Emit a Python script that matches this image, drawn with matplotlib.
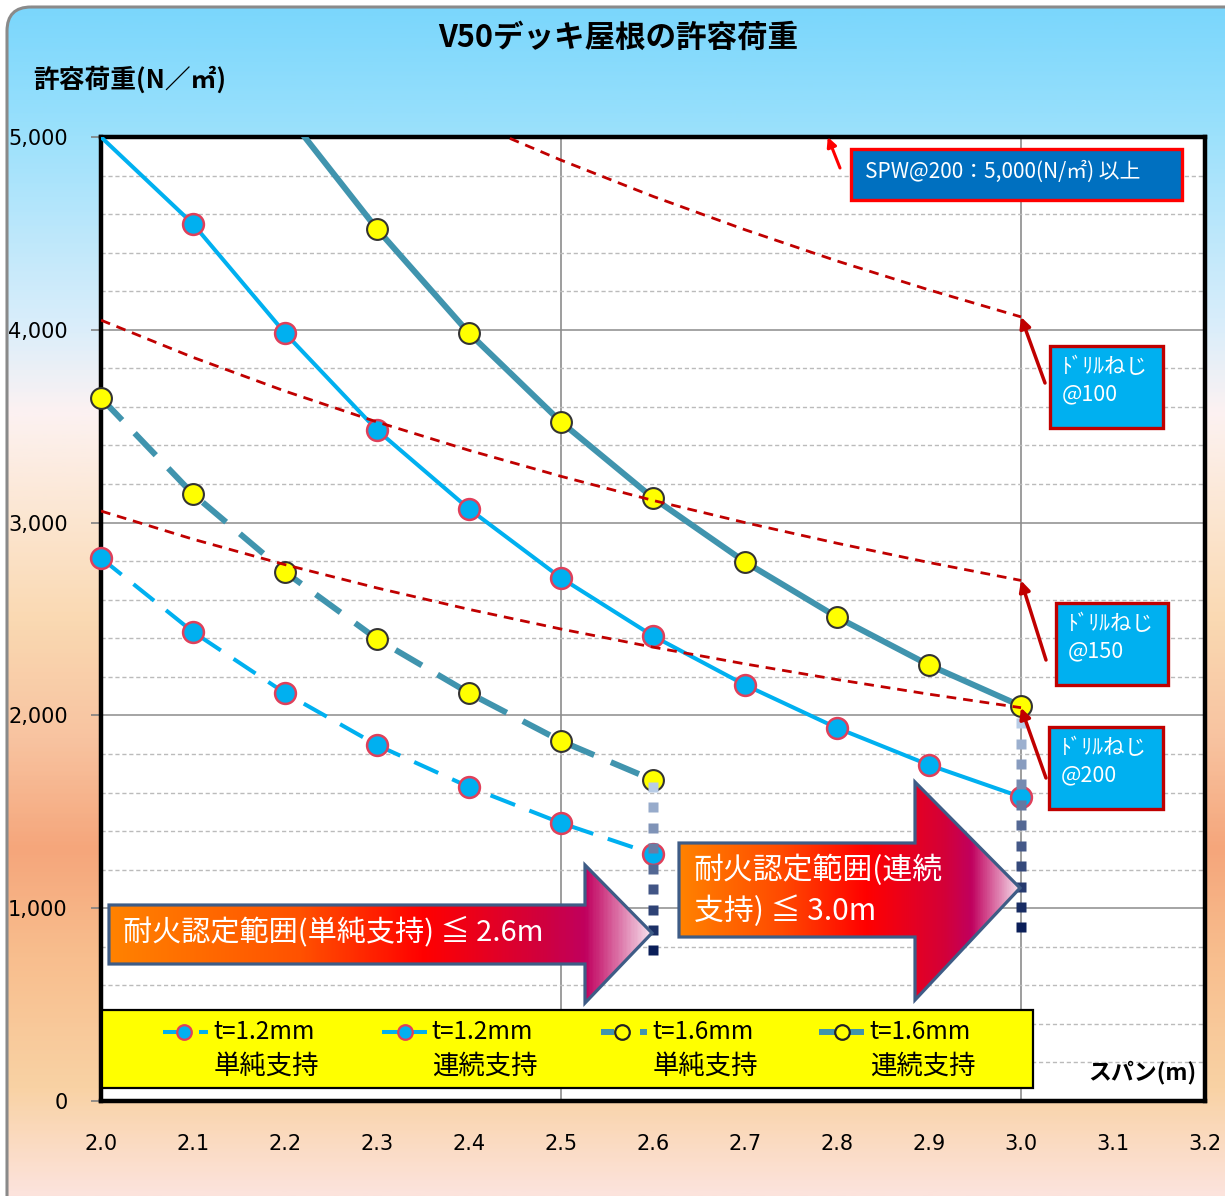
import numpy as np
import matplotlib
matplotlib.use('Agg')
import matplotlib.pyplot as plt
from matplotlib.patches import Polygon, Rectangle, FancyBboxPatch
from matplotlib.colors import LinearSegmentedColormap, to_rgb

plt.rcParams['font.family'] = ['Noto Sans CJK JP', 'DejaVu Sans']
plt.rcParams['lines.scale_dashes'] = False

# ---------------- data ----------------
spans_full = [2.0, 2.1, 2.2, 2.3, 2.4, 2.5, 2.6, 2.7, 2.8, 2.9, 3.0]
spans_simple = [2.0, 2.1, 2.2, 2.3, 2.4, 2.5, 2.6]

t12_simple = [2816, 2433, 2116, 1846, 1629, 1442, 1281]
t12_cont = [5000, 4549, 3983, 3480, 3071, 2713, 2412, 2158, 1935, 1743, 1577]
t16_simple = [3646, 3148, 2744, 2396, 2116, 1867, 1665]
t16_cont = [6630, 5830, 5130, 4523, 3983, 3522, 3128, 2796, 2510, 2261, 2049]

drill100 = [6100, 5810, 5545, 5304, 5083, 4880, 4692, 4519, 4357, 4207, 4067]
drill150 = [4050, 3857, 3682, 3522, 3375, 3240, 3115, 3000, 2893, 2793, 2700]
drill200 = [3060, 2914, 2782, 2661, 2550, 2448, 2354, 2267, 2186, 2110, 2040]

x_ticks = [2.0, 2.1, 2.2, 2.3, 2.4, 2.5, 2.6, 2.7, 2.8, 2.9, 3.0, 3.1, 3.2]
x_tick_labels = ['2.0', '2.1', '2.2', '2.3', '2.4', '2.5', '2.6', '2.7', '2.8', '2.9', '3.0', '3.1', '3.2']
y_ticks = [0, 1000, 2000, 3000, 4000, 5000]
y_tick_labels = ['0', '1,000', '2,000', '3,000', '4,000', '5,000']

legend_top = ['t=1.2mm', 't=1.2mm', 't=1.6mm', 't=1.6mm']
legend_bottom = ['単純支持', '連続支持', '単純支持', '連続支持']

title = 'V50デッキ屋根の許容荷重'
ylabel = '許容荷重(N／㎡)'
xlabel = 'スパン(m)'
spw_label = 'SPW@200：5,000(N/㎡) 以上'
drill_labels = ['@100', '@150', '@200']
arrow1_text = '耐火認定範囲(単純支持) ≦ 2.6m'
arrow2_text = ['耐火認定範囲(連続', '支持) ≦ 3.0m']

# guide (fire-rating limit) dotted lines: (span, top value, bottom value)
guide_26 = (2.6, 1629, 781)
guide_30 = (3.0, 1960, 892)

# ---------------- figure ----------------
W, H = 1225, 1196
fig = plt.figure(figsize=(W / 100, H / 100), dpi=100)

# background with gradient, rounded frame
bg = fig.add_axes([0, 0, 1, 1], zorder=0)
bg.axis('off')
stops = [(0.0, '#79D6FC'), (120 / H, '#98E0FC'), (330 / H, '#DCEEFA'),
         (410 / H, '#FCF2F2'), (500 / H, '#FCE8D6'), (620 / H, '#FAD9B2'),
         (740 / H, '#F8C3A0'), (850 / H, '#F5A67B'), (960 / H, '#F8BE8E'),
         (1090 / H, '#F9D2A4'), (1.0, '#FCE3DC')]
cmap_bg = LinearSegmentedColormap.from_list('bg', stops)
grad = np.linspace(0, 1, 600).reshape(-1, 1)
im = bg.imshow(grad, cmap=cmap_bg, extent=[0, W, H, 0], aspect='auto', interpolation='bilinear')
frame = FancyBboxPatch((7, 7), W + 40, H + 40, boxstyle='round,pad=0,rounding_size=24',
                       fc='none', ec='#8A8A8A', lw=2.2, transform=bg.transData)
bg.add_patch(frame)
im.set_clip_path(frame)
bg.set_xlim(0, W)
bg.set_ylim(H, 0)

# main axes
ax = fig.add_axes([101 / W, 1 - 1101 / H, 1104 / W, 964 / H], zorder=1)
ax.set_facecolor('white')
ax.set_xlim(2.0, 3.2)
ax.set_ylim(0, 5000)

ax.set_yticks(y_ticks)
ax.set_yticklabels(y_tick_labels)
ax.set_yticks(np.arange(0, 5001, 200), minor=True)
ax.set_xticks(x_ticks)
ax.set_xticklabels(x_tick_labels)
ax.tick_params(axis='y', which='major', length=7, width=1.2, color='#808080', pad=17,
               labelsize=15, labelfontfamily='DejaVu Sans')
ax.tick_params(axis='y', which='minor', length=0)
ax.tick_params(axis='x', length=0, pad=24, labelsize=15, labelfontfamily='DejaVu Sans')
ax.grid(axis='y', which='major', color='#8C8C8C', lw=1.1, zorder=0)
ax.grid(axis='y', which='minor', color='#BBBBBB', lw=1.0, ls=(0, (3, 2)), zorder=0)
for xv in (2.5, 3.0):
    ax.axvline(xv, color='#8C8C8C', lw=1.2, zorder=0.5)
for sp in ax.spines.values():
    sp.set_linewidth(3.2)
    sp.set_color('black')
ax.set_axisbelow(True)

c12 = '#00B0F0'
c16 = '#4094AE'
m12 = dict(marker='o', ms=15, mfc=c12, mec='#E0405A', mew=1.8, ls='none', clip_on=False)
m16 = dict(marker='o', ms=15, mfc='#FFFF00', mec='#333333', mew=1.5, ls='none', clip_on=False)


def in_range(xs, ys):
    pts = [(x, y) for x, y in zip(xs, ys) if y < 5000]
    return [p[0] for p in pts], [p[1] for p in pts]


ax.plot(spans_simple, t12_simple, color=c12, lw=2.9, dashes=(19, 11), zorder=3)
ax.plot(*in_range(spans_simple, t12_simple), zorder=3.1, **m12)
ax.plot(spans_full, t12_cont, color=c12, lw=2.9, zorder=3.2)
ax.plot(*in_range(spans_full, t12_cont), zorder=3.3, **m12)
ax.plot(spans_simple, t16_simple, color=c16, lw=4.3, dashes=(22, 13), zorder=3.4)
ax.plot(*in_range(spans_simple, t16_simple), zorder=3.5, **m16)
ax.plot(spans_full, t16_cont, color=c16, lw=4.3, zorder=3.6)
ax.plot(*in_range(spans_full, t16_cont), zorder=3.7, **m16)

for d in (drill100, drill150, drill200):
    ax.plot(spans_full, d, color='#C00000', lw=2.0, dashes=(7, 5), zorder=5)

# dotted guides with color gradient
top_c = np.array(to_rgb('#B8CCE6'))
bot_c = np.array(to_rgb('#0A1E58'))
for gx, gtop, gbot in (guide_26, guide_30):
    ys = np.arange(gtop, gbot - 1, -106)
    n = len(ys)
    for i, yv in enumerate(ys):
        f = (i / max(n - 1, 1)) ** 0.8
        col = top_c * (1 - f) + bot_c * f
        ax.plot([gx], [yv], marker='s', ms=7.4, mfc=col, mec='none', ls='none',
                zorder=6, clip_on=False)

# ---------------- overlay (pixel coords) ----------------
ov = fig.add_axes([0, 0, 1, 1], zorder=3)
ov.axis('off')
ov.patch.set_alpha(0)

ov.text(618, 38, title, fontsize=22, weight='bold', ha='center', va='center')
ov.text(33, 80, ylabel, fontsize=18.5, weight='bold', ha='left', va='center')
ov.text(1196, 1073, xlabel, fontsize=16.5, weight='bold', ha='right', va='center')


def grad_arrow(pts, stops_):
    xs = [p[0] for p in pts]
    ys = [p[1] for p in pts]
    cm = LinearSegmentedColormap.from_list('a', stops_)
    g = np.linspace(0, 1, 400).reshape(1, -1)
    poly = Polygon(pts, closed=True, transform=ov.transData)
    img = ov.imshow(g, cmap=cm, extent=[min(xs), max(xs), max(ys), min(ys)],
                    aspect='auto', interpolation='bilinear', zorder=2)
    img.set_clip_path(poly)
    ov.add_patch(Polygon(pts, closed=True, fc='none', ec='#3E5C86', lw=2.3, zorder=3))


arrow_stops = [(0.0, '#FF8200'), (0.35, '#FF5200'), (0.58, '#FF0000'),
               (0.80, '#D0003E'), (0.88, '#C0005E'), (1.0, '#F6E0EC')]
grad_arrow([(109, 905), (585, 905), (585, 865), (652, 933), (585, 1003), (585, 964), (109, 964)],
           arrow_stops)
arrow_stops2 = [(0.0, '#FF8200'), (0.30, '#FF4A00'), (0.55, '#FF0000'),
                (0.78, '#D40038'), (0.86, '#C0005E'), (1.0, '#F6E0EC')]
grad_arrow([(679, 843), (915, 843), (915, 782), (1020, 888), (915, 1000), (915, 937), (679, 937)],
           arrow_stops2)
ov.text(123, 932, arrow1_text, color='white', fontsize=21, va='center', ha='left', zorder=4)
ov.text(694, 870, arrow2_text[0], color='white', fontsize=21.5, va='center', ha='left', zorder=4)
ov.text(694, 911, arrow2_text[1], color='white', fontsize=21.5, va='center', ha='left', zorder=4)

# SPW box
ov.add_patch(Rectangle((851, 149), 331, 51, fc='#0070C0', ec='#FF0000', lw=2.4, zorder=4))
ov.text(865, 172, spw_label, color='white', fontsize=15, va='center', ha='left', zorder=5)
ov.annotate('', xy=(2.79, 5000), xycoords=ax.transData, xytext=(840, 168), textcoords=ov.transData,
            arrowprops=dict(arrowstyle='-|>', color='#FF0000', lw=2.2, mutation_scale=14,
                            shrinkA=0, shrinkB=0), zorder=5)

# drill boxes
drill_boxes = [(1050, 346, 1163, 428), (1056, 603, 1168, 685), (1049, 727, 1163, 809)]
drill_tails = [(1045, 383), (1046, 660), (1046, 778)]
for (x0, y0, x1, y1), tail, lab, d in zip(drill_boxes, drill_tails, drill_labels,
                                          (drill100, drill150, drill200)):
    ov.add_patch(Rectangle((x0, y0), x1 - x0, y1 - y0, fc='#00B0F0', ec='#C00000', lw=2.4, zorder=4))
    ov.text(x0 + 12, y0 + 21, 'ﾄﾞﾘﾙねじ', color='white', fontsize=15.5, va='center', ha='left', zorder=5)
    ov.text(x0 + 12, y0 + 48, lab, color='white', fontsize=15.5, va='center', ha='left', zorder=5)
    ov.annotate('', xy=(spans_full[-1], d[-1]), xycoords=ax.transData, xytext=tail,
                textcoords=ov.transData,
                arrowprops=dict(arrowstyle='-|>', color='#C00000', lw=2.5, mutation_scale=16,
                                shrinkA=0, shrinkB=0), zorder=5)

# legend
ov.add_patch(Rectangle((102, 1010), 931, 78, fc='#FFFF00', ec='black', lw=1.6, zorder=6))
ly = 1032
leg_specs = [
    dict(segs=[(163, 178), (199, 208)], mx=184, color=c12, lw=2.9, mfc=c12, mec='#E0405A', tx=213),
    dict(segs=[(382, 427)], mx=405, color=c12, lw=2.9, mfc=c12, mec='#E0405A', tx=431),
    dict(segs=[(601, 614), (640, 647)], mx=622, color=c16, lw=4.3, mfc='#FFFF00', mec='#222222', tx=652),
    dict(segs=[(819, 864)], mx=842, color=c16, lw=4.3, mfc='#FFFF00', mec='#222222', tx=869),
]
for spec, t1, t2 in zip(leg_specs, legend_top, legend_bottom):
    for a, b in spec['segs']:
        ov.plot([a, b], [ly, ly], color=spec['color'], lw=spec['lw'], solid_capstyle='butt', zorder=7)
    ov.plot([spec['mx']], [ly], marker='o', ms=10.5, mfc=spec['mfc'], mec=spec['mec'], mew=1.6,
            ls='none', zorder=8)
    ov.text(spec['tx'], ly, t1, fontsize=17.5, va='center', ha='left', zorder=8)
    ov.text(spec['tx'] + 1, 1066, t2, fontsize=19, va='center', ha='left', zorder=8)

ov.set_xlim(0, W)
ov.set_ylim(H, 0)

fig.savefig('out.png', dpi=100)
